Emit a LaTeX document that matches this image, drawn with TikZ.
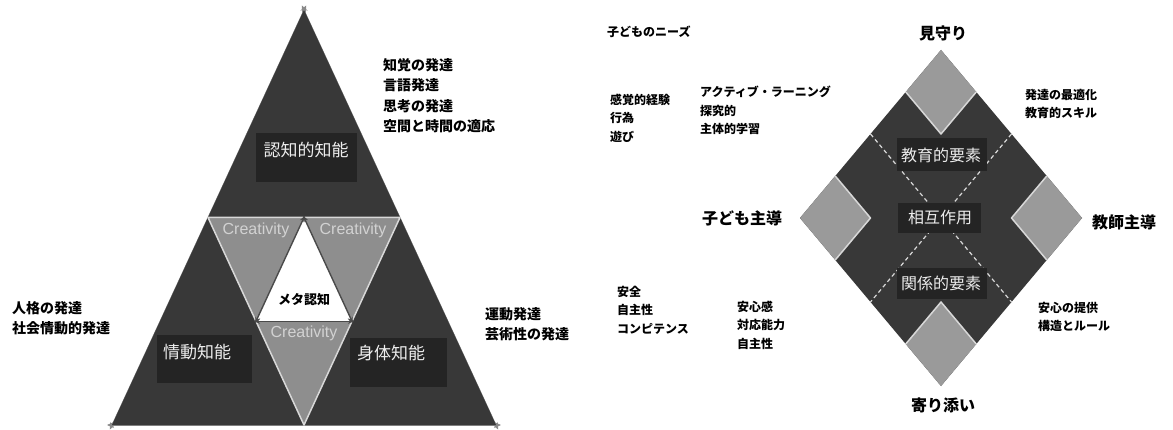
\documentclass[tikz,border=0pt]{standalone}
\usepackage{fontspec}
\setmainfont{Noto Sans CJK JP}
\newfontfamily\latinfont{Liberation Sans}
\usetikzlibrary{arrows.meta}
\definecolor{dk}{HTML}{383838}
\definecolor{bx}{HTML}{242424}
\definecolor{gr}{HTML}{8E8E8E}
\definecolor{sq}{HTML}{9A9A9A}
\definecolor{lt}{HTML}{D8D8D8}
\definecolor{tx}{HTML}{EDEDED}
\definecolor{cr}{HTML}{D2D2D2}
\definecolor{ar}{HTML}{4A4A4A}
\definecolor{oa}{HTML}{8A8A8A}
\begin{document}
\begin{tikzpicture}[x=1pt,y=-1pt,
  lbl/.style={anchor=north west, inner sep=0pt, align=left, font=\bfseries\fontsize{14}{20.5}\selectfont},
  slbl/.style={anchor=north west, inner sep=0pt, align=left, font=\bfseries\fontsize{12}{18.3}\selectfont},
  biglbl/.style={inner sep=0pt, font=\bfseries\fontsize{16}{18}\selectfont},
  boxtxt/.style={text=tx, inner sep=0pt, font=\fontsize{17}{19}\selectfont},
  dboxtxt/.style={text=tx, inner sep=0pt, font=\fontsize{16}{18}\selectfont},
  crea/.style={text=cr, inner sep=0pt, font=\latinfont\fontsize{16}{18}\selectfont},
  warr/.style={draw=ar, line width=1.4pt, shorten <=-2pt, shorten >=-2pt, {Stealth[length=6pt,width=5pt]}-{Stealth[length=6pt,width=5pt]}},
  oarr/.style={draw=oa, line width=0.8pt, shorten <=-5pt, shorten >=-5pt, {Stealth[length=7pt,width=6pt]}-{Stealth[length=7pt,width=6pt]}},
  sep/.style={draw=lt, line width=1.5pt, line join=round},
  dline/.style={draw=lt, line width=1.2pt, dash pattern=on 4pt off 3pt},
]
\useasboundingbox[fill=white] (0,0) rectangle (1173,430);

% ---------- left: triangle ----------
\coordinate (A) at (304,10);
\coordinate (BL) at (112,425);
\coordinate (BR) at (496,425);
\coordinate (ML) at (208,217.5);
\coordinate (MR) at (400,217.5);
\coordinate (MB) at (304,425);
\coordinate (W1) at (304,217.5);
\coordinate (W2) at (256,321.25);
\coordinate (W3) at (352,321.25);

\fill[dk] (A) -- (BR) -- (BL) -- cycle;
\draw[oarr] (A) -- (BL);
\draw[oarr] (A) -- (BR);
\draw[oarr] (BL) -- (BR);
\fill[dk] (A) -- (BR) -- (BL) -- cycle;
\fill[gr] (ML) -- (MR) -- (MB) -- cycle;
\fill[white] (W1) -- (W3) -- (W2) -- cycle;
\draw[sep] (ML) -- (MR) -- (MB) -- cycle;
\draw[warr] (W1) -- (W2);
\draw[warr] (W1) -- (W3);
\draw[warr] (W2) -- (W3);

\fill[bx] (256,133) rectangle (357,182);
\fill[bx] (157,335) rectangle (252,383);
\fill[bx] (350,338) rectangle (447,387);
\node[boxtxt] (cog) at (306,150) {認知的知能};
\node[boxtxt] (emo) at (197,352) {情動知能};
\node[boxtxt] (phy) at (391,353) {身体知能};

\node[crea] (c1) at (256,230) {Creativity};
\node[crea] (c2) at (353,230) {Creativity};
\node[crea] (c3) at (304,333) {Creativity};
\node[inner sep=0pt, font=\bfseries\fontsize{13}{15}\selectfont] (meta) at (304,300) {メタ認知};

\node[lbl] (l1) at (383,58) {知覚の発達\\言語発達\\思考の発達\\空間と時間の適応};
\node[lbl] (l2) at (12,301) {人格の発達\\社会情動的発達};
\node[lbl] (l3) at (485,307) {運動発達\\芸術性の発達};

% ---------- right: diamond ----------
\coordinate (DT) at (941,50);
\coordinate (DR) at (1082,218);
\coordinate (DB) at (941,386);
\coordinate (DL) at (800,218);
\fill[dk] (DT) -- (DR) -- (DB) -- (DL) -- cycle;

\fill[sq] (DT) -- (976.25,92) -- (941,134) -- (905.75,92) -- cycle;
\fill[sq] (DR) -- (1046.75,260) -- (1011.5,218) -- (1046.75,176) -- cycle;
\fill[sq] (DB) -- (905.75,344) -- (941,302) -- (976.25,344) -- cycle;
\fill[sq] (DL) -- (835.25,176) -- (870.5,218) -- (835.25,260) -- cycle;
\draw[sep] (905.75,92) -- (941,134) -- (976.25,92);
\draw[sep] (1046.75,176) -- (1011.5,218) -- (1046.75,260);
\draw[sep] (905.75,344) -- (941,302) -- (976.25,344);
\draw[sep] (835.25,176) -- (870.5,218) -- (835.25,260);

\coordinate (e1) at (870.5,134);
\coordinate (e2) at (1011.5,302);
\coordinate (e3) at (1011.5,134);
\coordinate (e4) at (870.5,302);
\draw[dline] (e1) -- (e2);
\draw[dline] (e3) -- (e4);

\fill[bx] (897,138) rectangle (987,171);
\fill[bx] (898,203) rectangle (981,233);
\fill[bx] (897,268) rectangle (987,299);
\node[dboxtxt] (edu) at (941,155) {教育的要素};
\node[dboxtxt] (int) at (940,217) {相互作用};
\node[dboxtxt] (rel) at (941,283) {関係的要素};

\node[biglbl] (top) at (943,33) {見守り};
\node[biglbl] (bot) at (943,405) {寄り添い};
\node[biglbl] (lft) at (742,218) {子ども主導};
\node[biglbl] (rgt) at (1124,222) {教師主導};

\node[slbl] (s1) at (607,26) {子どものニーズ};
\node[slbl] (s2) at (610,94) {感覚的経験\\行為\\遊び};
\node[slbl] (s3) at (700,86) {アクティブ・ラーニング\\探究的\\主体的学習};
\node[slbl] (s4) at (1025,89) {発達の最適化\\教育的スキル};
\node[slbl] (s5) at (617,286) {安全\\自主性\\コンピテンス};
\node[slbl] (s6) at (737,301) {安心感\\対応能力\\自主性};
\node[slbl] (s7) at (1038,302) {安心の提供\\構造とルール};
\end{tikzpicture}
\end{document}
